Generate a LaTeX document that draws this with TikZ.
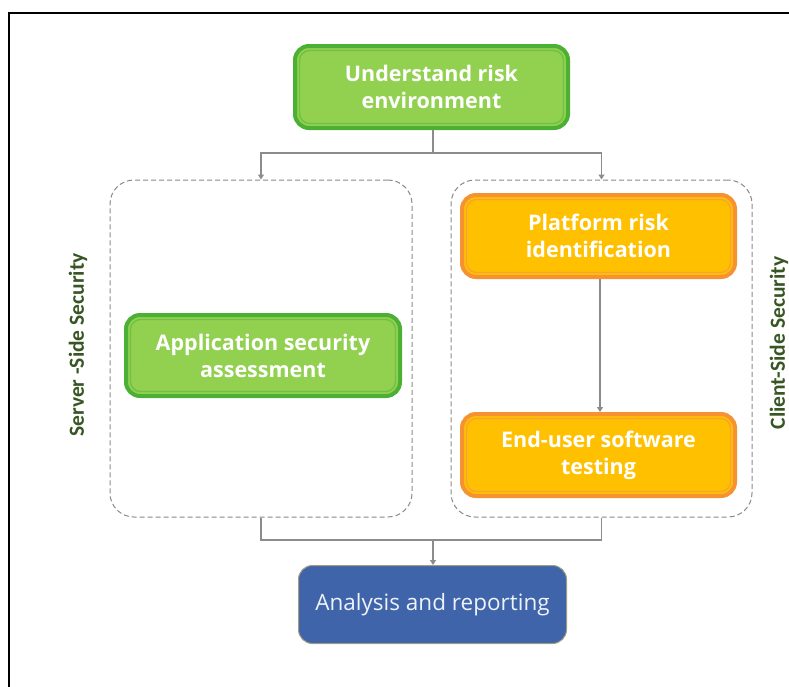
\documentclass[tikz,border=0pt]{standalone}
\usepackage{fontspec}
\setmainfont{Open Sans}
\newfontfamily\sidefont{Carlito}
\usetikzlibrary{arrows.meta}

\definecolor{grnFill}{HTML}{92D050}
\definecolor{grnEdge}{HTML}{4CB034}
\definecolor{grnInner}{HTML}{6EC142}
\definecolor{orgFill}{HTML}{FFC000}
\definecolor{orgEdge}{HTML}{F79232}
\definecolor{orgInner}{HTML}{F9A23A}
\definecolor{bluFill}{HTML}{3F64A9}
\definecolor{bluEdge}{HTML}{A09E82}
\definecolor{bluText}{HTML}{EEF2FA}
\definecolor{linkGray}{HTML}{8C8C8C}
\definecolor{dashGray}{HTML}{8A8A8A}
\definecolor{sideGreen}{HTML}{375623}

\begin{document}
\begin{tikzpicture}[x=1pt,y=-1pt,
  stepbox/.style={rounded corners=14pt, line width=4pt, align=center,
    text=white, inner sep=0pt,
    font=\bfseries\fontsize{21.5}{27}\selectfont},
  greenbox/.style={stepbox, draw=grnEdge, fill=grnFill,
    path picture={\draw[grnInner, line width=1.3pt, rounded corners=10pt]
      ([shift={(4.5pt,-4.5pt)}]path picture bounding box.north west) rectangle
      ([shift={(-4.5pt,4.5pt)}]path picture bounding box.south east);}},
  orangebox/.style={stepbox, draw=orgEdge, fill=orgFill,
    path picture={\draw[orgInner, line width=1.3pt, rounded corners=10pt]
      ([shift={(4.5pt,-4.5pt)}]path picture bounding box.north west) rectangle
      ([shift={(-4.5pt,4.5pt)}]path picture bounding box.south east);}},
  reportbox/.style={rounded corners=14pt, draw=bluEdge, line width=1pt,
    fill=bluFill, text=bluText, align=center, inner sep=0pt,
    font=\fontsize{22.5}{26}\selectfont},
  groupbox/.style={draw=dashGray, dashed, dash pattern=on 5pt off 3pt,
    line width=1pt, rounded corners=24pt, inner sep=0pt},
  sidelabel/.style={rotate=90, text=sideGreen,
    font=\sidefont\bfseries\fontsize{21.5}{23}\selectfont},
  link/.style={draw=linkGray, line width=1.6pt},
  linkarrow/.style={link, -{Triangle[width=6pt,length=5pt]}}
]
\useasboundingbox (0,0) rectangle (789,686);
\fill[white] (0,0) rectangle (789,686);

% outer frame, open to the right and bottom
\draw[line width=2pt, black] (9,13) rectangle (820,720);

% dashed groups
\node[groupbox, minimum width=302pt, minimum height=337pt] (server) at (261,348.5) {};
\node[groupbox, minimum width=301pt, minimum height=337pt] (client) at (601.5,348.5) {};

% process steps
\node[greenbox, minimum width=273pt, minimum height=82pt] (risk) at (431.5,87) {Understand risk\\environment};
\node[greenbox, minimum width=274pt, minimum height=81pt] (app) at (263,355.5) {Application security\\assessment};
\node[orangebox, minimum width=273pt, minimum height=82pt] (platform) at (598.5,236) {Platform risk\\identification};
\node[orangebox, minimum width=273pt, minimum height=82pt] (enduser) at (598.5,455) {End-user software\\testing};
\node[reportbox, minimum width=268pt, minimum height=78pt] (report) at (432.5,604.5) {Analysis and reporting};

% side captions
\node[sidelabel] (srvlabel) at (78,345) {Server -Side Security};
\node[sidelabel] (clilabel) at (779,343) {Client-Side Security};

% connectors
\coordinate (split) at (433,153);
\coordinate (merge) at (433,540);
\draw[link] (risk.south -| split) -- (split);
\draw[linkarrow] (split) -| (server.north);
\draw[linkarrow] (split) -| (client.north);
\draw[linkarrow] (platform.south -| 600,0) -- (enduser.north -| 600,0);
\draw[link] (server.south) |- (merge) -| (client.south);
\draw[linkarrow] (merge) -- (report.north -| merge);
\end{tikzpicture}
\end{document}
